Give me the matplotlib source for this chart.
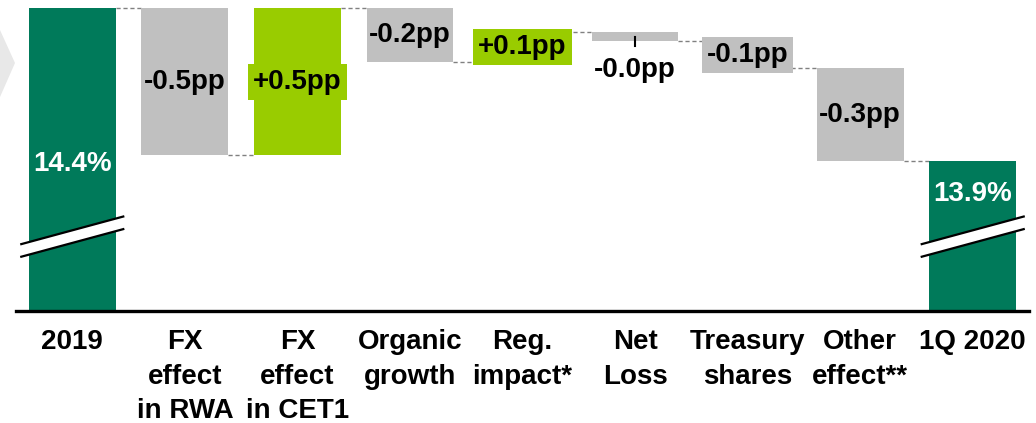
import matplotlib.pyplot as plt
from matplotlib.patches import Polygon

plt.rcParams['font.family'] = ['Liberation Sans', 'DejaVu Sans']
plt.rcParams['font.weight'] = 'bold'

categories = ['2019', 'FX\neffect\nin RWA', 'FX\neffect\nin CET1', 'Organic\ngrowth',
              'Reg.\nimpact*', 'Net\nLoss', 'Treasury\nshares', 'Other\neffect**', '1Q 2020']
start_value = 14.4
deltas = [-0.49, 0.49, -0.18, 0.10, -0.03, -0.09, -0.31]
delta_labels = ['-0.5pp', '+0.5pp', '-0.2pp', '+0.1pp', '-0.0pp', '-0.1pp', '-0.3pp']
total_labels = ['14.4%', '13.9%']

dark_green = '#007A5A'
light_green = '#99CC00'
grey = '#C0C0C0'

fig = plt.figure(figsize=(10.36, 4.23), dpi=100)
ax = fig.add_axes([16 / 1036, 1 - 311 / 423, (1029 - 16) / 1036, 311 / 423])
ymin, ymax = 13.39, 14.427
ax.set_xlim(-0.5, 8.5)
ax.set_ylim(ymin, ymax)
w = 0.77

# start bar
ax.bar(0, start_value - ymin, bottom=ymin, width=w, color=dark_green, zorder=2)
ax.annotate(total_labels[0], (0, (start_value + ymin) / 2), xytext=(0, -3),
            textcoords='offset points', ha='center', va='center',
            color='white', fontsize=20, fontweight='bold', zorder=5)

level = start_value
for i, d in enumerate(deltas):
    x = i + 1
    new = level + d
    col = light_green if d > 0 else grey
    # connector from previous bar
    ax.plot([x - 1 + w / 2, x - w / 2], [level, level], color='#808080',
            lw=1, ls=(0, (3, 2)), zorder=1)
    ax.bar(x, abs(d), bottom=min(level, new), width=w, color=col, zorder=2)
    if abs(d) < 0.05:
        bot = min(level, new)
        ax.plot([x, x], [(level + new) / 2, bot - 0.017], color='black', lw=1.5, zorder=4)
        ax.annotate(delta_labels[i], (x, bot - 0.017), xytext=(0, -7.5),
                    textcoords='offset points', ha='center', va='top',
                    fontsize=20, fontweight='bold', zorder=5)
    else:
        box = None
        if d > 0 or abs(d) < 0.12:
            box = dict(boxstyle='square,pad=0.18', fc=col, ec='none')
        ax.text(x, (level + new) / 2, delta_labels[i], ha='center', va='center',
                fontsize=20, fontweight='bold', zorder=5, bbox=box)
    level = new

# end bar
n = len(categories) - 1
ax.plot([n - 1 + w / 2, n - w / 2], [level, level], color='#808080',
        lw=1, ls=(0, (3, 2)), zorder=1)
ax.bar(n, level - ymin, bottom=ymin, width=w, color=dark_green, zorder=2)
ax.annotate(total_labels[1], (n, level), xytext=(0, -24), textcoords='offset points',
            ha='center', va='center', color='white', fontsize=20, fontweight='bold', zorder=5)

# axis break marks
brk = 13.638
half = 0.453
dy = 0.046
gap = 0.042
for x in (0, n):
    xs = [x - half, x + half]
    up = [brk + gap / 2 - dy, brk + gap / 2 + dy]
    lo = [brk - gap / 2 - dy, brk - gap / 2 + dy]
    ax.add_patch(Polygon([(xs[0], up[0]), (xs[1], up[1]), (xs[1], lo[1]), (xs[0], lo[0])],
                         closed=True, fc='white', ec='none', zorder=3, clip_on=False))
    ax.plot(xs, up, color='black', lw=1.6, zorder=4, clip_on=False)
    ax.plot(xs, lo, color='black', lw=1.6, zorder=4, clip_on=False)

# faint chevron at left edge
fig.patches.append(Polygon([(0, 1 - 30 / 423), (15 / 1036, 1 - 63 / 423), (0, 1 - 97 / 423)],
                           closed=True, fc='#E8E8E8', ec='none', transform=fig.transFigure))

for s in ['top', 'right', 'left']:
    ax.spines[s].set_visible(False)
ax.spines['bottom'].set_linewidth(2.4)
ax.spines['bottom'].set_zorder(6)
ax.set_yticks([])
ax.set_xticks(range(len(categories)))
ax.set_xticklabels(categories, fontsize=20, fontweight='bold', linespacing=1.43)
ax.tick_params(axis='x', length=0, pad=13)

fig.savefig('out.png', dpi=100)
